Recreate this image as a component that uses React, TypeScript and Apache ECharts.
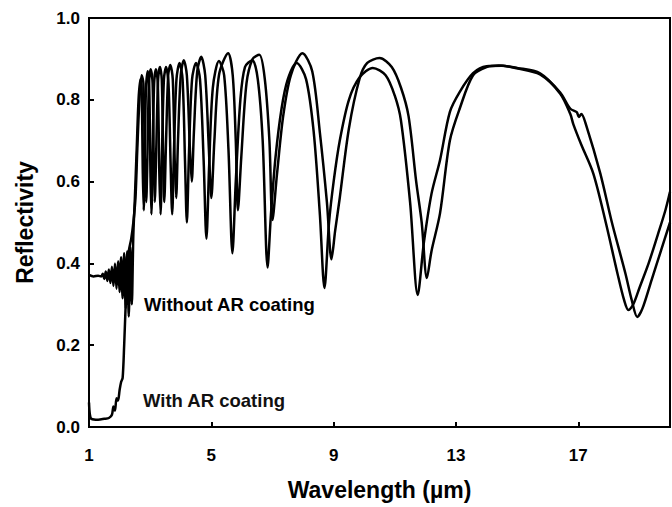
import React, { useEffect, useRef } from "react";
import * as echarts from "echarts";

const xTickLabels = [1, 5, 9, 13, 17];
const yTicks = [0, 0.2, 0.4, 0.6, 0.8, 1.0];

const withoutAR: [number, number][] = [
  [1.0, 0.372], [1.15, 0.368], [1.3, 0.37], [1.4, 0.368], [1.45, 0.375], [1.5, 0.362],
  [1.55, 0.38], [1.6, 0.357], [1.65, 0.385], [1.7, 0.352], [1.75, 0.392], [1.8, 0.345],
  [1.85, 0.4], [1.9, 0.338], [1.95, 0.405], [2.0, 0.33], [2.05, 0.415], [2.1, 0.315],
  [2.15, 0.425], [2.2, 0.29], [2.25, 0.43], [2.3, 0.27], [2.35, 0.44], [2.4, 0.3],
  [2.45, 0.47], [2.5, 0.56], [2.56, 0.68], [2.62, 0.8], [2.68, 0.85], [2.72, 0.83],
  [2.76, 0.62], [2.79, 0.53], [2.82, 0.64], [2.86, 0.82], [2.92, 0.87], [2.97, 0.83],
  [3.01, 0.62], [3.04, 0.52], [3.08, 0.66], [3.13, 0.84], [3.19, 0.875], [3.25, 0.84],
  [3.3, 0.62], [3.34, 0.52], [3.39, 0.68], [3.45, 0.85], [3.52, 0.88], [3.6, 0.84],
  [3.67, 0.64], [3.72, 0.52], [3.78, 0.68], [3.86, 0.85], [3.96, 0.89], [4.06, 0.85],
  [4.14, 0.65], [4.2, 0.5], [4.27, 0.67], [4.37, 0.85], [4.5, 0.89], [4.63, 0.85],
  [4.75, 0.65], [4.84, 0.46], [4.93, 0.64], [5.05, 0.83], [5.25, 0.895], [5.42, 0.86],
  [5.56, 0.68], [5.69, 0.425], [5.8, 0.6], [5.95, 0.8], [6.1, 0.88], [6.34, 0.897],
  [6.52, 0.85], [6.68, 0.7], [6.84, 0.39], [6.95, 0.52], [7.1, 0.66], [7.3, 0.78],
  [7.5, 0.85], [7.79, 0.89], [8.1, 0.85], [8.35, 0.72], [8.55, 0.52], [8.7, 0.34],
  [8.85, 0.5], [9.0, 0.6], [9.2, 0.7], [9.5, 0.8], [9.85, 0.855], [10.28, 0.878],
  [10.7, 0.86], [11.0, 0.81], [11.2, 0.75], [11.5, 0.55], [11.75, 0.323], [11.95, 0.45],
  [12.2, 0.57], [12.48, 0.653], [12.8, 0.77], [13.13, 0.82], [13.56, 0.865], [14.0, 0.882],
  [14.5, 0.883], [15.0, 0.877], [15.75, 0.862], [16.41, 0.815], [16.74, 0.765], [16.84, 0.74],
  [17.1, 0.69], [17.49, 0.62], [17.9, 0.5], [18.28, 0.376], [18.5, 0.31], [18.64, 0.286],
  [18.8, 0.3], [19.0, 0.34], [19.3, 0.4], [19.6, 0.47], [19.85, 0.53], [20.0, 0.575],
];

const withAR: [number, number][] = [
  [1.0, 0.06], [1.03, 0.03], [1.08, 0.02], [1.3, 0.018], [1.5, 0.02], [1.65, 0.022],
  [1.75, 0.03], [1.8, 0.05], [1.85, 0.04], [1.9, 0.07], [1.95, 0.065], [2.0, 0.09],
  [2.05, 0.11], [2.1, 0.12], [2.15, 0.2], [2.2, 0.3], [2.25, 0.38], [2.3, 0.43],
  [2.38, 0.46], [2.45, 0.5], [2.52, 0.56], [2.58, 0.68], [2.65, 0.8], [2.72, 0.86],
  [2.78, 0.84], [2.83, 0.64], [2.87, 0.55], [2.91, 0.66], [2.96, 0.84], [3.02, 0.875],
  [3.08, 0.84], [3.12, 0.64], [3.15, 0.55], [3.2, 0.68], [3.26, 0.85], [3.32, 0.88],
  [3.38, 0.85], [3.43, 0.64], [3.46, 0.55], [3.52, 0.7], [3.59, 0.86], [3.66, 0.885],
  [3.74, 0.85], [3.8, 0.66], [3.85, 0.56], [3.91, 0.7], [4.0, 0.86], [4.1, 0.897],
  [4.2, 0.86], [4.3, 0.68], [4.36, 0.6], [4.43, 0.72], [4.54, 0.87], [4.67, 0.905],
  [4.8, 0.86], [4.92, 0.68], [5.0, 0.56], [5.1, 0.7], [5.25, 0.86], [5.55, 0.914],
  [5.7, 0.86], [5.8, 0.7], [5.87, 0.53], [5.98, 0.66], [6.15, 0.84], [6.35, 0.9],
  [6.57, 0.91], [6.75, 0.85], [6.9, 0.7], [7.0, 0.506], [7.15, 0.62], [7.35, 0.76],
  [7.6, 0.86], [7.98, 0.914], [8.3, 0.87], [8.55, 0.72], [8.78, 0.55], [8.93, 0.41],
  [9.05, 0.48], [9.2, 0.56], [9.5, 0.73], [9.85, 0.852], [10.1, 0.89], [10.5, 0.902],
  [10.9, 0.88], [11.2, 0.83], [11.45, 0.76], [11.7, 0.6], [11.88, 0.5], [12.05, 0.364],
  [12.2, 0.43], [12.48, 0.523], [12.8, 0.7], [13.13, 0.78], [13.56, 0.86], [14.0, 0.88],
  [14.4, 0.884], [15.0, 0.878], [15.75, 0.865], [16.41, 0.818], [16.74, 0.778], [16.95, 0.77],
  [17.02, 0.758], [17.1, 0.765], [17.25, 0.74], [17.72, 0.62], [18.1, 0.5], [18.54, 0.376],
  [18.75, 0.31], [18.93, 0.269], [19.1, 0.29], [19.4, 0.36], [19.7, 0.43], [20.0, 0.5],
];

const FONT = "'Liberation Sans', Arial, sans-serif";

export default function App() {
  const ref = useRef<HTMLDivElement>(null);
  useEffect(() => {
    if (!ref.current) return;
    const chart = echarts.init(ref.current, undefined, { renderer: "svg" });
    chart.setOption({
      animation: false,
      backgroundColor: "#fff",
      grid: {
        left: 89,
        right: 2,
        top: 18,
        bottom: 80,
        show: true,
        borderColor: "#000",
        borderWidth: 2,
        containLabel: false,
      },
      xAxis: {
        type: "value",
        min: 1,
        max: 20,
        name: "Wavelength (\u00b5m)",
        nameLocation: "middle",
        nameGap: 51,
        nameTextStyle: { fontFamily: FONT, fontWeight: "bold", fontSize: 23, color: "#000" },
        axisLine: { show: true, lineStyle: { color: "#000", width: 2 } },
        axisTick: {
          show: true,
          inside: true,
          length: 5,
          lineStyle: { color: "#000", width: 2 },
          customValues: xTickLabels,
        },
        axisLabel: {
          margin: 20,
          fontFamily: FONT,
          fontWeight: "bold",
          fontSize: 17,
          color: "#000",
          customValues: xTickLabels,
        },
        splitLine: { show: false },
      },
      yAxis: {
        type: "value",
        min: 0,
        max: 1,
        interval: 0.2,
        name: "Reflectivity",
        nameLocation: "middle",
        nameGap: 53,
        nameTextStyle: { fontFamily: FONT, fontWeight: "bold", fontSize: 23, color: "#000" },
        axisLine: { show: true, lineStyle: { color: "#000", width: 2 } },
        axisTick: { show: true, inside: true, length: 5, lineStyle: { color: "#000", width: 2 } },
        axisLabel: {
          margin: 9,
          fontFamily: FONT,
          fontWeight: "bold",
          fontSize: 17,
          color: "#000",
          formatter: (v: number) => (yTicks.some((t) => Math.abs(t - v) < 1e-9) ? v.toFixed(1) : ""),
        },
        splitLine: { show: false },
      },
      series: [
        {
          name: "Without AR coating",
          type: "line",
          data: withoutAR,
          showSymbol: false,
          smooth: 0.3,
          lineStyle: { color: "#000", width: 2.5 },
        },
        {
          name: "With AR coating",
          type: "line",
          data: withAR,
          showSymbol: false,
          smooth: 0.3,
          lineStyle: { color: "#000", width: 2.5 },
        },
      ],
      graphic: [
        {
          type: "text",
          x: 144,
          y: 304,
          style: {
            text: "Without AR coating",
            font: `bold 18.5px ${FONT}`,
            fill: "#000",
            align: "left",
            verticalAlign: "middle",
          },
        },
        {
          type: "text",
          x: 143,
          y: 400,
          style: {
            text: "With AR coating",
            font: `bold 18.5px ${FONT}`,
            fill: "#111",
            align: "left",
            verticalAlign: "middle",
          },
        },
      ],
    });
    return () => chart.dispose();
  }, []);
  return (
    <div
      ref={ref}
      style={{ position: "fixed", left: 0, top: 0, width: 672, height: 507, background: "#fff" }}
    />
  );
}
